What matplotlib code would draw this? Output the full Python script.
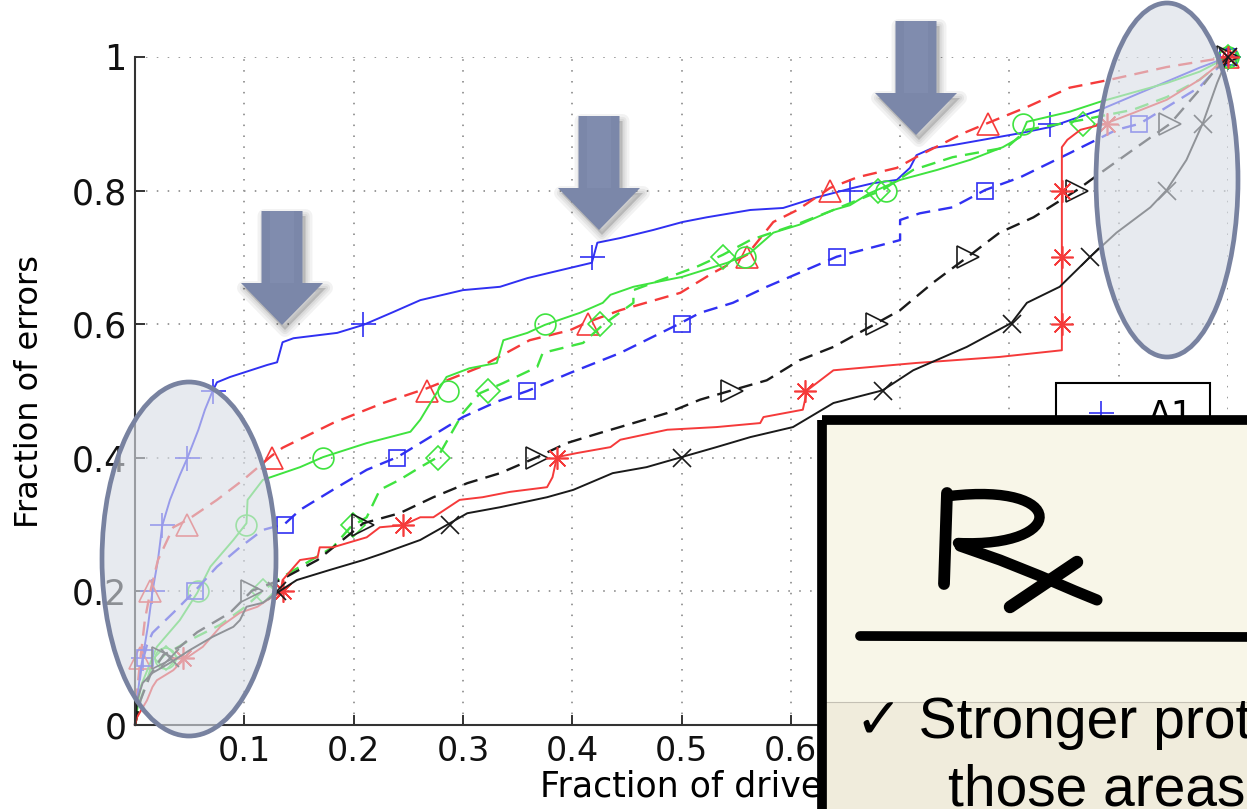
import matplotlib
matplotlib.use("Agg")
import matplotlib.pyplot as plt
from matplotlib.lines import Line2D
from matplotlib.patches import Ellipse, Polygon, Rectangle, PathPatch
from matplotlib.path import Path
from matplotlib.transforms import Affine2D

# ---------------------------------------------------------------------------
# Data
# ---------------------------------------------------------------------------

LEVELS = [0.1, 0.2, 0.3, 0.4, 0.5, 0.6, 0.7, 0.8, 0.9, 1.0]

X_TICKS = [0.1, 0.2, 0.3, 0.4, 0.5, 0.6, 0.7, 0.8, 0.9, 1.0]
# labels right of 0.6 sit under the Rx card in the slide
X_TICK_LABELS = ["0.1", "0.2", "0.3", "0.4", "0.5", "0.6", "", "", "", ""]
Y_TICKS = [0, 0.2, 0.4, 0.6, 0.8, 1.0]
Y_TICK_LABELS = ["0", "0.2", "0.4", "0.6", "0.8", "1"]

# blue solid, "+"
A1_X = [0, 0.002, 0.005, 0.007, 0.012, 0.016, 0.021, 0.025, 0.032, 0.041, 0.048,
        0.058, 0.064, 0.071, 0.075, 0.087, 0.121, 0.130, 0.135, 0.145, 0.185,
        0.209, 0.236, 0.261, 0.300, 0.334, 0.359, 0.382, 0.418, 0.423, 0.444,
        0.474, 0.501, 0.523, 0.563, 0.593, 0.624, 0.657, 0.675, 0.697, 0.709,
        0.715, 0.730, 0.748, 0.810, 0.837, 0.883, 0.974, 1.0]
A1_Y = [0, 0.037, 0.082, 0.100, 0.150, 0.200, 0.247, 0.299, 0.337, 0.374, 0.400,
        0.442, 0.472, 0.500, 0.513, 0.521, 0.539, 0.543, 0.573, 0.579, 0.587,
        0.599, 0.618, 0.636, 0.651, 0.656, 0.669, 0.678, 0.692, 0.722, 0.729,
        0.741, 0.753, 0.760, 0.771, 0.774, 0.790, 0.804, 0.811, 0.816, 0.834,
        0.853, 0.864, 0.868, 0.886, 0.895, 0.921, 0.984, 1.0]
A1_MARK = [0.007, 0.016, 0.025, 0.048, 0.071, 0.209, 0.418, 0.654, 0.837, 1.0]

# red dashed, triangle
A2_X = [0, 0.002, 0.005, 0.009, 0.014, 0.021, 0.035, 0.048, 0.075, 0.099, 0.125,
        0.135, 0.181, 0.227, 0.267, 0.316, 0.361, 0.398, 0.414, 0.444, 0.499,
        0.529, 0.560, 0.584, 0.606, 0.636, 0.661, 0.697, 0.718, 0.758, 0.780,
        0.816, 0.855, 0.892, 0.944, 1.0]
A2_Y = [0, 0.052, 0.100, 0.157, 0.200, 0.247, 0.296, 0.307, 0.337, 0.367, 0.403,
        0.415, 0.452, 0.482, 0.504, 0.536, 0.576, 0.591, 0.603, 0.621, 0.647,
        0.677, 0.704, 0.753, 0.771, 0.804, 0.820, 0.834, 0.853, 0.886, 0.901,
        0.925, 0.954, 0.966, 0.985, 1.0]
A2_MARK = [0.005, 0.014, 0.048, 0.125, 0.267, 0.414, 0.560, 0.636, 0.780, 1.0]

# green solid, circle
B1_X = [0, 0.005, 0.020, 0.041, 0.057, 0.069, 0.090, 0.102, 0.103, 0.117, 0.151,
        0.172, 0.212, 0.252, 0.261, 0.268, 0.285, 0.306, 0.331, 0.337, 0.359,
        0.375, 0.407, 0.428, 0.435, 0.456, 0.501, 0.542, 0.563, 0.584, 0.608,
        0.639, 0.654, 0.672, 0.700, 0.734, 0.764, 0.794, 0.810, 0.816, 0.855,
        0.883, 0.944, 0.974, 1.0]
B1_Y = [0, 0.057, 0.117, 0.157, 0.198, 0.237, 0.277, 0.302, 0.337, 0.367, 0.386,
        0.401, 0.422, 0.439, 0.457, 0.476, 0.521, 0.534, 0.542, 0.576, 0.587,
        0.599, 0.617, 0.632, 0.644, 0.656, 0.671, 0.692, 0.707, 0.737, 0.749,
        0.771, 0.778, 0.796, 0.816, 0.831, 0.846, 0.865, 0.880, 0.903, 0.918,
        0.933, 0.961, 0.978, 1.0]
B1_MARK = [0.027, 0.058, 0.102, 0.172, 0.286, 0.375, 0.558, 0.687, 0.812, 1.0]

# blue dashed, square
B2_X = [0, 0.002, 0.006, 0.011, 0.016, 0.035, 0.055, 0.075, 0.096, 0.117, 0.137,
        0.151, 0.181, 0.212, 0.240, 0.276, 0.300, 0.331, 0.359, 0.398, 0.444,
        0.496, 0.517, 0.547, 0.578, 0.608, 0.642, 0.691, 0.700, 0.700, 0.718,
        0.748, 0.778, 0.810, 0.855, 0.898, 0.919, 0.944, 0.974, 1.0]
B2_Y = [0, 0.037, 0.090, 0.120, 0.138, 0.168, 0.201, 0.237, 0.266, 0.292, 0.301,
        0.322, 0.352, 0.382, 0.401, 0.437, 0.461, 0.484, 0.500, 0.527, 0.557,
        0.599, 0.617, 0.632, 0.656, 0.677, 0.701, 0.722, 0.726, 0.756, 0.766,
        0.775, 0.801, 0.820, 0.856, 0.891, 0.900, 0.925, 0.955, 1.0]
B2_MARK = [0.009, 0.055, 0.137, 0.240, 0.359, 0.500, 0.642, 0.778, 0.919, 1.0]

# green dashed, diamond
C1_X = [0, 0.005, 0.014, 0.027, 0.050, 0.078, 0.101, 0.117, 0.130, 0.151, 0.181,
        0.197, 0.212, 0.224, 0.242, 0.261, 0.277, 0.300, 0.316, 0.337, 0.368,
        0.373, 0.410, 0.428, 0.456, 0.456, 0.514, 0.538, 0.563, 0.608, 0.639,
        0.684, 0.712, 0.748, 0.798, 0.816, 0.867, 0.913, 0.944, 0.974, 1.0]
C1_Y = [0, 0.037, 0.082, 0.105, 0.127, 0.150, 0.177, 0.201, 0.217, 0.237, 0.266,
        0.296, 0.311, 0.352, 0.367, 0.386, 0.401, 0.467, 0.497, 0.512, 0.536,
        0.557, 0.572, 0.599, 0.632, 0.651, 0.686, 0.704, 0.726, 0.751, 0.771,
        0.801, 0.831, 0.850, 0.865, 0.891, 0.906, 0.921, 0.940, 0.966, 1.0]
C1_MARK = [0.028, 0.117, 0.199, 0.277, 0.323, 0.425, 0.538, 0.680, 0.867, 1.0]

# black dashed, right triangle
C2_X = [0, 0.005, 0.014, 0.026, 0.041, 0.057, 0.087, 0.107, 0.133, 0.167, 0.209,
        0.242, 0.273, 0.304, 0.334, 0.368, 0.395, 0.425, 0.456, 0.487, 0.517,
        0.546, 0.578, 0.608, 0.639, 0.679, 0.700, 0.730, 0.762, 0.791, 0.822,
        0.862, 0.883, 0.913, 0.947, 0.974, 0.993, 1.0]
C2_Y = [0, 0.037, 0.075, 0.105, 0.117, 0.139, 0.168, 0.201, 0.217, 0.247, 0.302,
        0.317, 0.341, 0.362, 0.377, 0.401, 0.422, 0.437, 0.452, 0.467, 0.487,
        0.501, 0.516, 0.546, 0.566, 0.602, 0.621, 0.662, 0.701, 0.737, 0.760,
        0.801, 0.826, 0.861, 0.900, 0.951, 0.991, 1.0]
C2_MARK = [0.026, 0.107, 0.209, 0.368, 0.546, 0.679, 0.762, 0.862, 0.947, 1.0]

# red solid, asterisk
D1_X = [0, 0.002, 0.011, 0.016, 0.020, 0.035, 0.044, 0.062, 0.078, 0.096, 0.112,
        0.121, 0.133, 0.135, 0.151, 0.167, 0.169, 0.181, 0.212, 0.224, 0.245,
        0.261, 0.273, 0.297, 0.318, 0.343, 0.377, 0.382, 0.386, 0.404, 0.435,
        0.444, 0.487, 0.532, 0.572, 0.575, 0.611, 0.615, 0.627, 0.639, 0.715,
        0.791, 0.848, 0.848, 0.853, 0.865, 0.889, 0.913, 0.944, 0.974, 1.0]
D1_Y = [0, 0.012, 0.037, 0.057, 0.067, 0.082, 0.097, 0.117, 0.147, 0.168, 0.177,
        0.187, 0.198, 0.217, 0.247, 0.251, 0.266, 0.266, 0.281, 0.296, 0.299,
        0.311, 0.311, 0.337, 0.341, 0.349, 0.356, 0.371, 0.401, 0.407, 0.416,
        0.427, 0.442, 0.446, 0.452, 0.461, 0.472, 0.501, 0.516, 0.531, 0.542,
        0.551, 0.561, 0.865, 0.876, 0.891, 0.901, 0.916, 0.936, 0.966, 1.0]
D1_MARK = [0.044, 0.135, 0.245, 0.386, 0.613, 0.848, 0.848, 0.848, 0.889, 1.0]

# black solid, x
D2_X = [0, 0.002, 0.007, 0.016, 0.032, 0.050, 0.071, 0.090, 0.096, 0.102, 0.117,
        0.130, 0.148, 0.178, 0.209, 0.227, 0.261, 0.288, 0.304, 0.334, 0.377,
        0.401, 0.437, 0.468, 0.500, 0.532, 0.563, 0.602, 0.639, 0.684, 0.712,
        0.761, 0.802, 0.816, 0.846, 0.874, 0.898, 0.929, 0.944, 0.962, 0.977,
        0.990, 1.0]
D2_Y = [0, 0.037, 0.063, 0.078, 0.093, 0.112, 0.132, 0.147, 0.157, 0.177, 0.183,
        0.198, 0.217, 0.232, 0.247, 0.257, 0.277, 0.302, 0.317, 0.326, 0.341,
        0.352, 0.377, 0.386, 0.401, 0.416, 0.431, 0.446, 0.482, 0.501, 0.531,
        0.566, 0.602, 0.632, 0.656, 0.701, 0.737, 0.775, 0.801, 0.846, 0.901,
        0.961, 1.0]
D2_MARK = [0.032, 0.130, 0.288, 0.500, 0.684, 0.802, 0.874, 0.944, 0.977, 1.0]

# ---------------------------------------------------------------------------
# Style
# ---------------------------------------------------------------------------

C_BLUE = "#3030f2"
C_RED = "#f53a3a"
C_GREEN = "#3fe33f"
C_BLACK = "#1a1a1a"
ASTERISK = (8, 2, 0)

SERIES = [
    ("A1", A1_X, A1_Y, A1_MARK, C_BLUE, "-", "+", 18),
    ("A2", A2_X, A2_Y, A2_MARK, C_RED, "--", "^", 16),
    ("B1", B1_X, B1_Y, B1_MARK, C_GREEN, "-", "o", 15),
    ("B2", B2_X, B2_Y, B2_MARK, C_BLUE, "--", "s", 12),
    ("C1", C1_X, C1_Y, C1_MARK, C_GREEN, "--", "D", 12),
    ("C2", C2_X, C2_Y, C2_MARK, C_BLACK, "--", ">", 16),
    ("D1", D1_X, D1_Y, D1_MARK, C_RED, "-", ASTERISK, 16),
    ("D2", D2_X, D2_Y, D2_MARK, C_BLACK, "-", "x", 13),
]

W, H = 1247, 809
fig = plt.figure(figsize=(W / 100, H / 100), dpi=100, facecolor="white")
# overlay helper: picture pixels, y pointing down
px = Affine2D().scale(1 / W, -1 / H).translate(0, 1) + fig.transFigure

ax = fig.add_axes([135 / W, 1 - 725 / H, (1228 - 135) / W, (725 - 57) / H])

for label, xs, ys, marks, color, ls, marker, ms in SERIES:
    lw = 1.7 if ls == "--" else 1.4
    line, = ax.plot(xs, ys, color=color, linestyle=ls, linewidth=lw, clip_on=False)
    if ls == "--":
        line.set_dashes((6, 3.5))
    ax.plot(marks, LEVELS, linestyle="none", marker=marker, markersize=ms,
            markerfacecolor="none", markeredgecolor=color, markeredgewidth=1.2,
            clip_on=False)

ax.set_xlim(0, 1)
ax.set_ylim(0, 1)
ax.set_xticks(X_TICKS)
ax.set_xticklabels(X_TICK_LABELS)
ax.set_yticks(Y_TICKS)
ax.set_yticklabels(Y_TICK_LABELS)
ax.tick_params(direction="in", length=7, width=1.2, colors="#111111")
ax.tick_params(axis="x", pad=7, labelsize=24)
ax.tick_params(axis="y", pad=6, labelsize=25)
ax.grid(True, color="#9a9a9a", linewidth=1.4, linestyle=(0, (0.8, 4.8)))
for side in ("top", "right"):
    ax.spines[side].set_visible(False)
for side in ("left", "bottom"):
    ax.spines[side].set_linewidth(1.5)
    ax.spines[side].set_color("#333333")

ax.set_xlabel("Fraction of drives", fontsize=25)
ax.set_ylabel("Fraction of errors", fontsize=23)
ax.xaxis.set_label_coords(0.508, -0.066)
ax.yaxis.set_label_coords(-0.082, 0.5)

# only the first legend row shows above the card
leg_handle = Line2D([], [], linestyle="none", marker="+", markersize=18,
                    markerfacecolor="none", markeredgecolor=C_BLUE, markeredgewidth=1.2)
leg = ax.legend([leg_handle], [SERIES[0][0]], loc="upper left",
                bbox_to_anchor=(1056 / W, 1 - 383 / H), bbox_transform=fig.transFigure,
                fontsize=25, fancybox=False, framealpha=1, edgecolor="black",
                borderaxespad=0, handlelength=1.7, handletextpad=0.5, borderpad=0.45)
leg.get_frame().set_linewidth(1.5)

# ---------------------------------------------------------------------------
# Slide overlays
# ---------------------------------------------------------------------------

# shaded ellipses (centre x, centre y, width, height in picture pixels)
for cx, cy, ew, eh in [(189, 559, 174, 354), (1167, 180, 142, 354)]:
    fig.add_artist(Ellipse((cx, cy), ew, eh, transform=px, facecolor="#d9dee6",
                           alpha=0.62, edgecolor="none", zorder=3))
    fig.add_artist(Ellipse((cx, cy), ew, eh, transform=px, facecolor="none",
                           edgecolor="#7882a0", linewidth=3.4, zorder=3))

# down arrows
ARROW = [(-20.5, -114), (20.5, -114), (20.5, -42), (41, -42), (0, 0),
         (-41, -42), (-20.5, -42)]
for tx, ty in [(282, 325), (599, 230), (916, 135)]:
    for lwk in [10, 6, 3]:
        fig.add_artist(Polygon([(tx + x + 3, ty + y + 5) for x, y in ARROW],
                               closed=True, transform=px, facecolor="black",
                               edgecolor="black", linewidth=lwk, alpha=0.05,
                               joinstyle="round", zorder=4))
    fig.add_artist(Polygon([(tx + x, ty + y) for x, y in ARROW], closed=True,
                           transform=px, facecolor="#7b87a9", edgecolor="none",
                           zorder=4))
    fig.add_artist(Rectangle((tx - 12, ty - 114), 24, 72, transform=px,
                             facecolor="#8a96b8", alpha=0.35, edgecolor="none",
                             zorder=4))

# Rx note card
fig.add_artist(Rectangle((822, 420), 500, 500, transform=px, facecolor="#f8f6e8",
                         edgecolor="none", zorder=10))
fig.add_artist(Rectangle((826, 702), 500, 200, transform=px, facecolor="#f0ecdc",
                         edgecolor="none", zorder=10))
fig.add_artist(Line2D([826, 1260], [702, 702], transform=px, color="#c4c0b4",
                      linewidth=0.8, zorder=10))
fig.add_artist(Rectangle((822, 420), 500, 500, transform=px, facecolor="none",
                         edgecolor="black", linewidth=7, joinstyle="round", zorder=11))

# hand-drawn "Rx"
bowl = Path([(950, 496), (1068, 482), (1068, 548), (958, 543)],
            [Path.MOVETO, Path.CURVE4, Path.CURVE4, Path.CURVE4])
fig.add_artist(PathPatch(bowl, transform=px, facecolor="none", edgecolor="black",
                         linewidth=7.5, capstyle="round", zorder=12))
strokes = [
    ([947, 944], [493, 584], 8.5),
    ([960, 1000, 1040, 1075, 1097], [546, 560, 576, 591, 600], 8),
    ([1077, 1010], [562, 607], 9),
    ([860, 1260], [636, 637], 7),
]
for sx, sy, slw in strokes:
    fig.add_artist(Line2D(sx, sy, transform=px, color="black", linewidth=slw,
                          solid_capstyle="round", solid_joinstyle="round", zorder=12))

note_font = ["Liberation Sans", "DejaVu Sans"]
fig.text(855, 738, "\u2713 Stronger protection for", transform=px, fontsize=41,
         family=note_font, va="baseline", ha="left", zorder=13)
fig.text(948, 806, "those areas", transform=px, fontsize=41,
         family=note_font, va="baseline", ha="left", zorder=13)

fig.savefig("out.png", dpi=100)
